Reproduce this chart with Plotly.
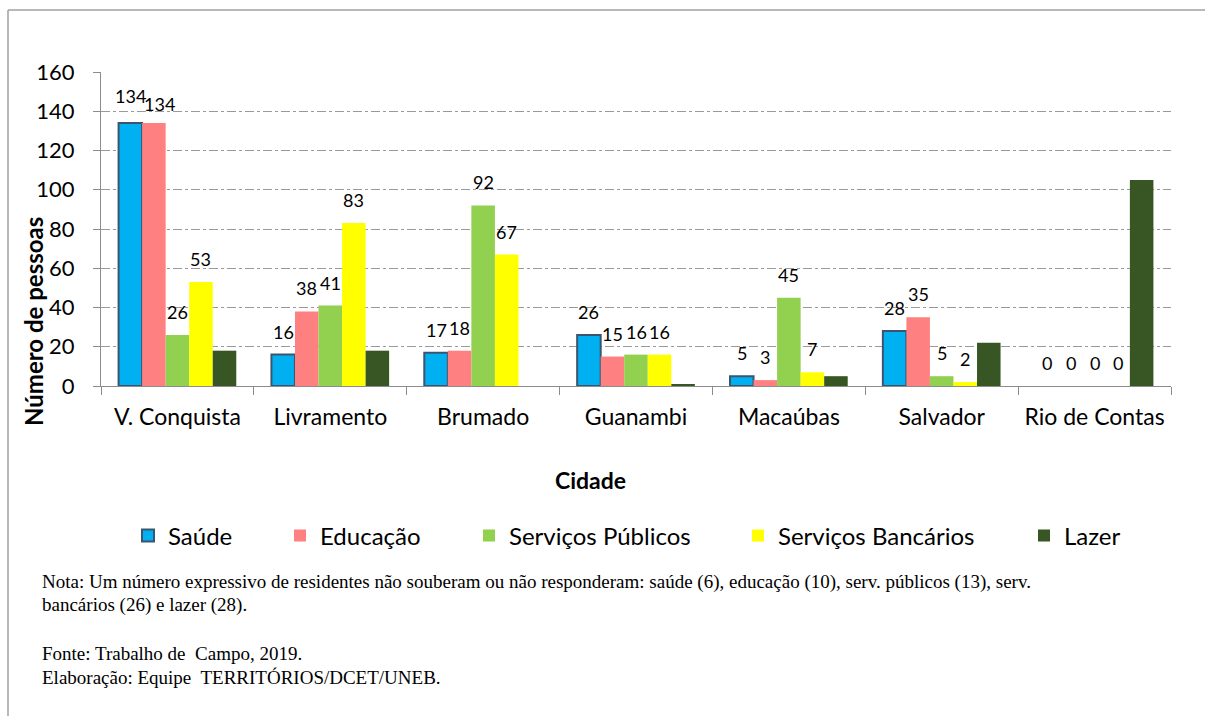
import plotly.graph_objects as go

cities = ["V. Conquista", "Livramento", "Brumado", "Guanambi", "Macaúbas", "Salvador", "Rio de Contas"]
saude = [134, 16, 17, 26, 5, 28, 0]
educacao = [134, 38, 18, 15, 3, 35, 0]
serv_publicos = [26, 41, 92, 16, 45, 5, 0]
serv_bancarios = [53, 83, 67, 16, 7, 2, 0]
lazer = [18, 18, 0, 1, 5, 22, 105]

series_names = ["Saúde", "Educação", "Serviços Públicos", "Serviços Bancários", "Lazer"]
series_values = [saude, educacao, serv_publicos, serv_bancarios, lazer]
labelled = [True, True, True, True, False]

colors = ["#00B0F0", "#FF8080", "#92D050", "#FFFF00", "#375623"]
line_colors = ["#3B5570", "#FF8080", "#92D050", "#FFFF00", "#375623"]
line_widths = [2, 0, 0, 0, 0]

# manual label nudges (pixels), as in the original chart: (series, city) -> (dx, dy)
label_nudge = {
    ("Saúde", "V. Conquista"): (0, 4),
    ("Educação", "V. Conquista"): (6, -4),
}

W, H = 1205, 716
L, R, T, B = 101, 34, 72, 330
PW, PH = W - L - R, H - T - B
BARGAP = 0.23


def px(xp):
    return (xp - L) / PW


def py(yp):
    return (H - B - yp) / PH


fig = go.Figure()
legend_x = [128, 280, 469, 738, 1024]
for i, (name, vals) in enumerate(zip(series_names, series_values)):
    lg = "legend" if i == 0 else f"legend{i + 1}"
    fig.add_trace(go.Bar(
        x=cities, y=vals, name=name,
        marker=dict(color=colors[i],
                    line=dict(color=line_colors[i],
                              width=[line_widths[i] if v > 0 else 0 for v in vals])),
        legend=lg,
    ))

annotations = []
n = len(series_names)
slot = (1 - BARGAP) / n
for i, vals in enumerate(series_values):
    if not labelled[i]:
        continue
    for j, v in enumerate(vals):
        dx, dy = label_nudge.get((series_names[i], cities[j]), (0, 0))
        annotations.append(dict(
            x=j + (i - (n - 1) / 2) * slot, y=v, xref="x", yref="y",
            text=str(v), showarrow=False, yanchor="middle", yshift=23 + dy, xshift=dx,
            font=dict(family="Lato", size=18, color="#000000"),
        ))

annotations.append(dict(
    x=px(33), y=py(322), xref="paper", yref="paper", text="<b>Número de pessoas</b>",
    textangle=-90, showarrow=False, xanchor="center", yanchor="middle",
    font=dict(family="Lato", size=24, color="#000000"),
))
annotations.append(dict(
    x=px(590), y=py(480), xref="paper", yref="paper", text="<b>Cidade</b>",
    showarrow=False, xanchor="center", yanchor="middle",
    font=dict(family="Lato", size=23, color="#000000"),
))

notes = [
    ("Nota: Um número expressivo de residentes não souberam ou não responderam: saúde (6), educação (10), serv. públicos (13), serv.", 582),
    ("bancários (26) e lazer (28).", 605),
    ("Fonte: Trabalho de  Campo, 2019.", 653),
    ("Elaboração: Equipe  TERRITÓRIOS/DCET/UNEB.", 677),
]
for txt, yy in notes:
    annotations.append(dict(
        x=px(40), y=py(yy), xref="paper", yref="paper", text=txt.replace("  ", "&nbsp; "),
        showarrow=False, xanchor="left", yanchor="middle",
        font=dict(family="Liberation Serif", size=19, color="#000000"),
    ))

legend_common = dict(
    orientation="h", xref="container", yref="container", yanchor="middle",
    font=dict(family="Lato", size=24, color="#000000"), bgcolor="rgba(0,0,0,0)",
    itemclick=False, itemdoubleclick=False,
)
legends = {}
for i in range(n):
    key = "legend" if i == 0 else f"legend{i + 1}"
    legends[key] = dict(legend_common, x=legend_x[i] / W, xanchor="left", y=1 - 536 / H)

fig.update_layout(
    width=W, height=H,
    margin=dict(l=L, r=R, t=T, b=B, pad=0),
    paper_bgcolor="#FFFFFF", plot_bgcolor="#FFFFFF",
    barmode="group", bargap=BARGAP, bargroupgap=0,
    showlegend=True,
    annotations=annotations,
    font=dict(family="Lato", color="#000000"),
    shapes=[
        dict(type="line", xref="paper", yref="paper", x0=px(8), x1=px(1205), y0=py(10), y1=py(10),
             line=dict(color="#A0A0A0", width=1.5)),
        dict(type="line", xref="paper", yref="paper", x0=px(8), x1=px(8), y0=py(10), y1=py(716),
             line=dict(color="#A0A0A0", width=1.5)),
    ],
    **legends,
)

fig.update_yaxes(
    range=[0, 160], dtick=20, tick0=0,
    showgrid=True, gridcolor="#9A9A9A", griddash="dashdot", gridwidth=1,
    showline=True, linecolor="#8C8C8C", linewidth=1,
    ticks="outside", ticklen=7, tickcolor="#8C8C8C",
    tickfont=dict(family="Lato", size=22, color="#000000"),
    ticklabelstandoff=14, zeroline=False,
)
fig.update_xaxes(
    type="category", showgrid=False,
    showline=True, linecolor="#8C8C8C", linewidth=1,
    ticks="outside", ticklen=8, tickcolor="#8C8C8C", tickson="boundaries",
    tickfont=dict(family="Lato", size=23, color="#000000"),
    ticklabelstandoff=10,
)

fig.write_html("out.html", config={"displayModeBar": False},
               post_script="document.body.style.margin='0';")
